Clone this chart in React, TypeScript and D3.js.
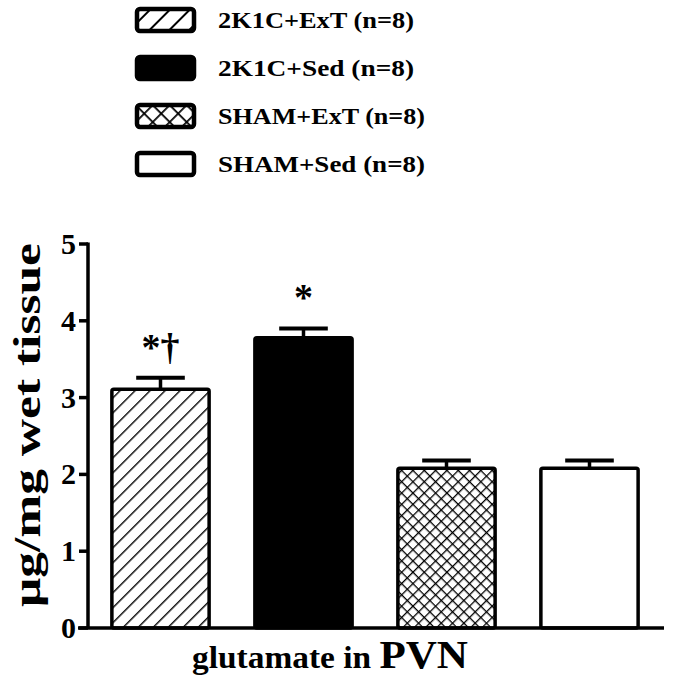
import React from "react";
import * as d3 from "d3";

const categories = ["2K1C+ExT", "2K1C+Sed", "SHAM+ExT", "SHAM+Sed"];
const legendLabels = ["2K1C+ExT (n=8)", "2K1C+Sed (n=8)", "SHAM+ExT (n=8)", "SHAM+Sed (n=8)"];
const means = [3.11, 3.78, 2.08, 2.08];
const errors = [0.15, 0.12, 0.1, 0.1];
const annotations = ["*†", "*", "", ""];
const yTicks = [0, 1, 2, 3, 4, 5];
const fills = ["url(#hatch)", "#000", "url(#cross)", "#fff"];
const legendFills = ["url(#hatchL)", "#000", "url(#crossL)", "#fff"];

export default function App() {
  const W = 675, H = 685;
  const x0 = 88, x1 = 664;
  const y = d3.scaleLinear().domain([0, 5]).range([628, 244]);
  const x = d3.scaleBand().domain(categories).range([89, 661]).paddingInner(0.32).paddingOuter(0.16);
  const font = "'Liberation Serif', 'Times New Roman', serif";
  const legendY = d3.scaleBand().domain(legendLabels).range([9, 175]).paddingInner(0.54);

  return (
    <svg width={W} height={H} style={{ position: "absolute", left: 0, top: 0, background: "#fff" }}>
      <defs>
        <pattern id="hatch" patternUnits="userSpaceOnUse" width="10.6" height="10.6" patternTransform="rotate(45)">
          <line x1="0" y1="0" x2="0" y2="10.6" stroke="#000" strokeWidth="2.8" />
        </pattern>
        <pattern id="hatchL" patternUnits="userSpaceOnUse" width="14" height="14" patternTransform="rotate(45)">
          <line x1="0" y1="0" x2="0" y2="14" stroke="#000" strokeWidth="4" />
        </pattern>
        <pattern id="cross" patternUnits="userSpaceOnUse" width="8" height="8" patternTransform="rotate(45)">
          <line x1="0" y1="0" x2="0" y2="8" stroke="#000" strokeWidth="2.6" />
          <line x1="0" y1="0" x2="8" y2="0" stroke="#000" strokeWidth="2.6" />
        </pattern>
        <pattern id="crossL" patternUnits="userSpaceOnUse" width="12" height="12" patternTransform="translate(0,2) rotate(45)">
          <line x1="0" y1="0" x2="0" y2="12" stroke="#000" strokeWidth="3.5" />
          <line x1="0" y1="0" x2="12" y2="0" stroke="#000" strokeWidth="3.5" />
        </pattern>
      </defs>

      {/* legend */}
      {legendLabels.map((lab, i) => {
        const ly = legendY(lab)!;
        const bh = legendY.bandwidth();
        return (
          <g key={lab}>
            <rect x={137} y={ly} width={57} height={bh} rx={3} fill={legendFills[i]} stroke="#000" strokeWidth={4.5} />
            <text x={218} y={ly + bh / 2 + 8} fontFamily={font} fontWeight="bold" fontSize={24}
              textLength={i < 2 ? 196 : 207} lengthAdjust="spacingAndGlyphs" fill="#000">{lab}</text>
          </g>
        );
      })}

      {/* bars */}
      {categories.map((c, i) => {
        const bx = x(c)!;
        const bw = x.bandwidth();
        const top = y(means[i]);
        const etop = y(means[i] + errors[i]);
        const cx = bx + bw / 2;
        return (
          <g key={c}>
            <line x1={cx} x2={cx} y1={top} y2={etop} stroke="#000" strokeWidth={3.5} />
            <line x1={cx - bw / 4} x2={cx + bw / 4} y1={etop} y2={etop} stroke="#000" strokeWidth={4} />
            <rect x={bx} y={top} width={bw} height={y(0) - top} rx={2} fill={fills[i]} stroke="#000" strokeWidth={3.5} />
            {annotations[i] && (
              <text x={cx} y={etop - 18} textAnchor="middle" fontFamily={font} fontWeight="bold" fontSize={38} fill="#000">{annotations[i]}</text>
            )}
          </g>
        );
      })}

      {/* axes */}
      <line x1={x0} x2={x0} y1={y(5) - 1.5} y2={y(0)} stroke="#000" strokeWidth={3.5} />
      <line x1={78} x2={x1} y1={y(0)} y2={y(0)} stroke="#000" strokeWidth={3.5} />
      {yTicks.map(t => (
        <g key={t}>
          <line x1={79} x2={x0} y1={y(t)} y2={y(t)} stroke="#000" strokeWidth={3.5} />
          <text x={76} y={y(t) + 10} textAnchor="end" fontFamily={font} fontWeight="bold" fontSize={30} fill="#000">{t}</text>
        </g>
      ))}

      {/* axis titles */}
      <text transform={`translate(40,425) rotate(-90)`} textAnchor="middle" fontFamily={font} fontWeight="bold" fontSize={37}
        textLength={364} lengthAdjust="spacingAndGlyphs" fill="#000">μg/mg wet tissue</text>
      <text x={330} y={668} textAnchor="middle" fontFamily={font} fontWeight="bold" fill="#000"
        textLength={276} lengthAdjust="spacingAndGlyphs">
        <tspan fontSize={31}>glutamate in </tspan>
        <tspan fontSize={40}>PVN</tspan>
      </text>
    </svg>
  );
}
